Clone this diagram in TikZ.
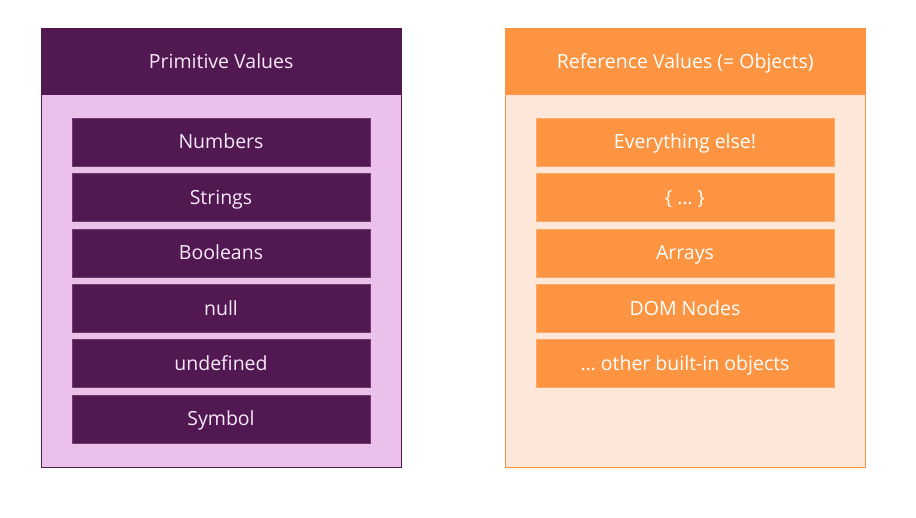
\documentclass[tikz,border=0pt]{standalone}
\usepackage{fontspec}
\setmainfont{Open Sans}
\usetikzlibrary{positioning}
\definecolor{plum}{HTML}{521852}
\definecolor{lilac}{HTML}{EBC0EB}
\definecolor{apricot}{HTML}{FC9441}
\definecolor{peach}{HTML}{FCE7D8}
\definecolor{paletext}{HTML}{F8EAF8}
\begin{document}
\begin{tikzpicture}[x=1pt,y=-1pt,
  panel/.style={minimum width=360pt, minimum height=439pt, anchor=north west, inner sep=0pt},
  header/.style={minimum width=360pt, minimum height=67pt, anchor=north west, inner sep=0pt, text height=14pt, text depth=0pt, text=paletext, font=\fontsize{19.5}{22}\selectfont},
  item/.style={minimum width=298pt, minimum height=48pt, inner sep=0pt, text height=14pt, text depth=0pt, text=paletext, font=\fontsize{19.5}{22}\selectfont}]
\useasboundingbox (0,0) rectangle (916,518);

% Linke Seite - Primitive Values
\node (primpanel) [panel, fill=lilac, draw=plum] at (41,28) {};
\node (primhead) [header, fill=plum] at (41,28) {Primitive Values};
\node (numbers) [item, fill=plum, draw=plum!85!white] at (221,142) {Numbers};
\node (strings) [item, fill=plum, draw=plum!85!white, below=7pt of numbers] {Strings};
\node (booleans) [item, fill=plum, draw=plum!85!white, below=7pt of strings] {Booleans};
\node (null) [item, fill=plum, draw=plum!85!white, below=7pt of booleans] {null};
\node (undef) [item, fill=plum, draw=plum!85!white, below=7pt of null] {undefined};
\node (symbol) [item, fill=plum, draw=plum!85!white, below=7pt of undef] {Symbol};

% Rechte Seite - Reference Values
\node (refpanel) [panel, fill=peach, draw=apricot] at (505,28) {};
\node (refhead) [header, fill=apricot, text=white] at (505,28) {Reference Values (= Objects)};
\node (everything) [item, fill=apricot, draw=apricot!80!white, text=white] at (685,142) {Everything else!};
\node (braces) [item, fill=apricot, draw=apricot!80!white, text=white, below=7pt of everything] {\{ \dots\ \}};
\node (arrays) [item, fill=apricot, draw=apricot!80!white, text=white, below=7pt of braces] {Arrays};
\node (domnodes) [item, fill=apricot, draw=apricot!80!white, text=white, below=7pt of arrays] {DOM Nodes};
\node (builtin) [item, fill=apricot, draw=apricot!80!white, text=white, below=7pt of domnodes] {\dots\ other built-in objects};

\end{tikzpicture}
\end{document}
